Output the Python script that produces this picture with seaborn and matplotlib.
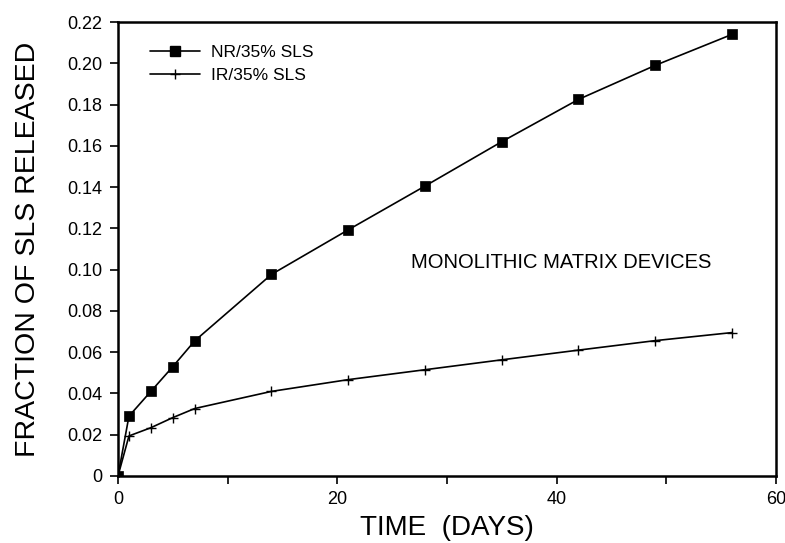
import matplotlib
matplotlib.use("Agg")
import matplotlib.pyplot as plt
import seaborn as sns
import pandas as pd
from matplotlib.ticker import MultipleLocator
from matplotlib.lines import Line2D

days = [0, 1, 3, 5, 7, 14, 21, 28, 35, 42, 49, 56]
nr_sls = [0.0, 0.029, 0.041, 0.053, 0.0655, 0.0977, 0.1193, 0.1405, 0.162, 0.1825, 0.199, 0.214]
ir_sls = [0.0, 0.0194, 0.0234, 0.0283, 0.0327, 0.041, 0.0467, 0.0515, 0.0563, 0.061, 0.0656, 0.0695]
series_names = ["NR/35% SLS", "IR/35% SLS"]

df_nr = pd.DataFrame({"day": days, "frac": nr_sls})
df_ir = pd.DataFrame({"day": days, "frac": ir_sls})

sns.set_style("ticks")
plt.rcParams["font.family"] = ["Liberation Sans", "DejaVu Sans"]
plt.rcParams["text.color"] = "black"
plt.rcParams["axes.labelcolor"] = "black"

fig = plt.figure(figsize=(7.85, 5.43), dpi=100)
ax = fig.add_axes([0.1503, 0.1234, 0.838, 0.836])

sns.lineplot(data=df_nr, x="day", y="frac", color="black", marker="s",
             markersize=7, markeredgewidth=0.5, markeredgecolor="black",
             linewidth=1.2, ax=ax)
sns.lineplot(data=df_ir, x="day", y="frac", color="black", marker="+",
             markersize=6.5, markeredgewidth=1.0, markeredgecolor="black",
             linewidth=1.2, ax=ax)

ax.set_xlim(0, 60)
ax.set_ylim(0, 0.22)
ax.xaxis.set_major_locator(MultipleLocator(20))
ax.xaxis.set_minor_locator(MultipleLocator(10))
ax.set_yticks([i * 0.02 for i in range(12)])
ax.set_yticklabels(["0"] + [f"{i*0.02:.2f}" for i in range(1, 12)])
ax.tick_params(axis="both", which="both", direction="out", length=6, width=1.2,
               labelsize=13, colors="black", pad=5)
for s in ax.spines.values():
    s.set_linewidth(1.8)
    s.set_color("black")

ax.set_xlabel("TIME  (DAYS)", fontsize=20, labelpad=5, color="black")
ax.set_ylabel("FRACTION OF SLS RELEASED", fontsize=20.5, labelpad=19, color="black")

handles = [Line2D([], [], color="black", marker="s", markersize=7, lw=1.2),
           Line2D([], [], color="black", marker="+", markersize=6.5, lw=1.2)]
leg = ax.legend(handles, series_names, loc="upper left", bbox_to_anchor=(0.025, 0.985),
                frameon=False, fontsize=12.5, handlelength=2.9, handletextpad=0.6,
                labelspacing=0.45)
for t in leg.get_texts():
    t.set_color("black")

ax.text(40.4, 0.1035, "MONOLITHIC MATRIX DEVICES", fontsize=14.5, ha="center",
        va="center", color="black")

fig.savefig("out.png", dpi=100)
